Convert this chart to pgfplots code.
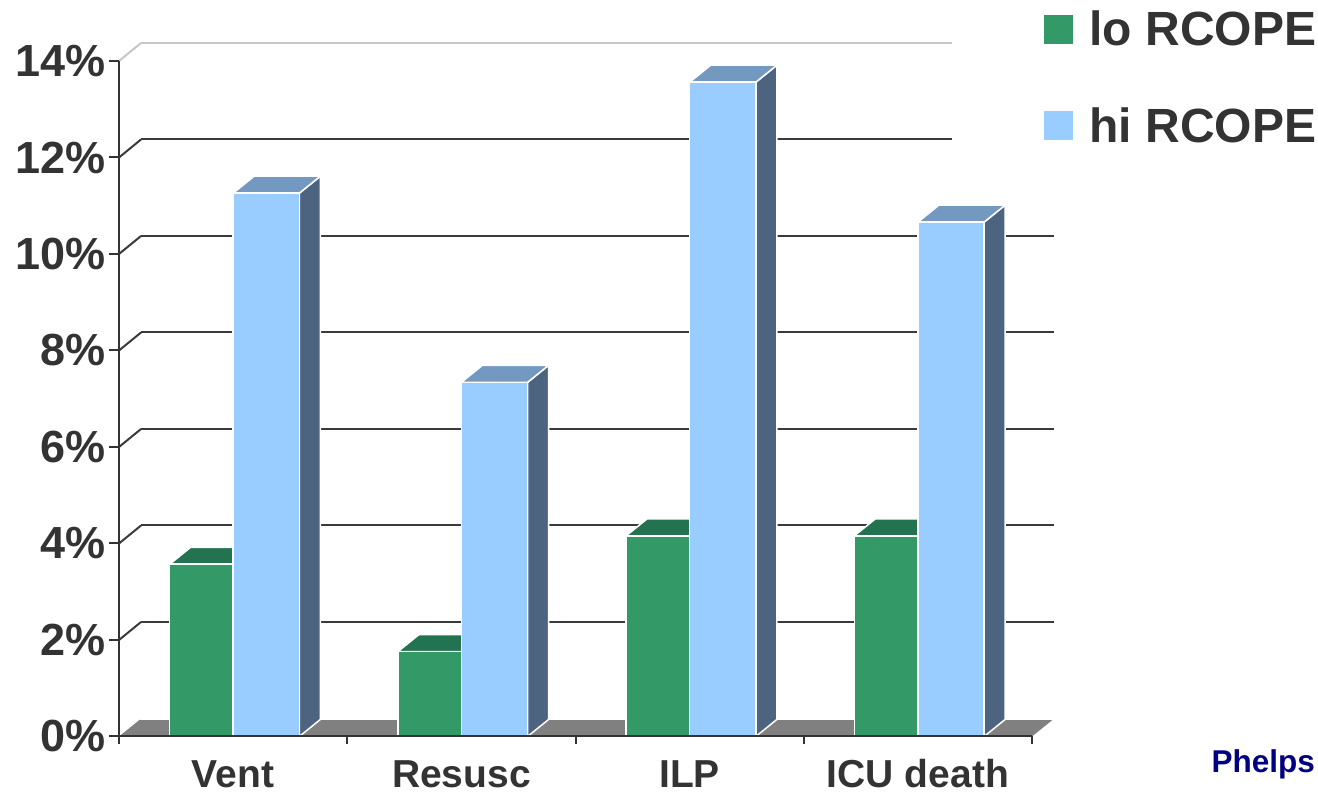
\documentclass[border=0pt]{standalone}
\usepackage{pgfplots}
\pgfplotsset{compat=1.18}
\usepackage{pgfplotstable}
\usepackage{fontspec}
\setmainfont{Liberation Sans}

\definecolor{txt}{HTML}{333333}
\definecolor{lofront}{HTML}{339966}
\definecolor{lotop}{HTML}{237350}
\definecolor{loside}{HTML}{1E5C40}
\definecolor{hifront}{HTML}{99CCFF}
\definecolor{hitop}{HTML}{7399C0}
\definecolor{hiside}{HTML}{4D6480}
\definecolor{floorc}{HTML}{808080}
\definecolor{gridc}{HTML}{3A3A3A}
\definecolor{navyc}{HTML}{000080}

\pgfplotstableread{
idx lo hi
0 3.57 11.26
1 1.76 7.34
2 4.16 13.56
3 4.16 10.66
}\data

% depth of bars and of the wall, in axis units
\def\bdx{0.092}
\def\bdy{0.352}
\def\wdx{0.0964}
\def\wdy{0.373}

\begin{document}
\begin{tikzpicture}
\begin{axis}[
  name=ax,
  scale only axis, width=913bp, height=675.5bp,
  xmin=-0.5, xmax=3.5, ymin=0, ymax=14,
  clip=false,
  axis on top=true,
  axis x line*=bottom, axis y line*=left,
  axis line style={draw=txt, line width=2bp},
  tick style={draw=txt, line width=2bp},
  tick align=outside,
  major tick length=10bp,
  minor tick length=8bp,
  ytick={0,2,...,14},
  yticklabels={0\%,2\%,4\%,6\%,8\%,10\%,12\%,14\%},
  yticklabel style={font=\fontsize{45bp}{45bp}\selectfont\bfseries, text=txt},
  xtick={0,1,2,3},
  xticklabels={Vent,Resusc,ILP,ICU death},
  major x tick style={draw=none},
  minor xtick={-0.5,0.5,1.5,2.5,3.5},
  minor x tick style={draw=txt, line width=2bp},
  xticklabel style={font=\fontsize{39bp}{39bp}\selectfont\bfseries, text=txt, anchor=base, inner sep=0pt, yshift=-41bp},
  legend style={at={(axis cs:3.5526,15.036)}, anchor=north west, draw=none, fill=none,
     inner sep=0pt, row sep=60bp,
     font=\fontsize{48bp}{48bp}\selectfont\bfseries, text=txt,
     nodes={inner sep=0pt},
     /tikz/every odd column/.append style={column sep=17bp}},
  legend cell align=left,
]
% floor
\addplot[forget plot, fill=floorc, draw=none] coordinates {(-0.5,0) (3.5,0) (3.592,0.352) (-0.408,0.352)} -- cycle;
\addplot[forget plot, draw=white, line width=1.5bp] coordinates {(-0.408,0.352) (3.592,0.352)};
% back wall grid lines and left wall diagonals
\pgfplotsinvokeforeach{2,4,6,8,10}{
  \pgfmathsetmacro\gy{#1+\wdy}
  \edef\cmd{%
    \noexpand\addplot[forget plot, draw=gridc, line width=2bp] coordinates {(-0.4036,\gy) (3.5964,\gy)};
    \noexpand\addplot[forget plot, draw=gridc, line width=2bp] coordinates {(-0.5,#1) (-0.4036,\gy)};
  }\cmd
}
\addplot[forget plot, draw=gridc, line width=2bp] coordinates {(-0.4036,12.373) (3.149,12.373)};
\addplot[forget plot, draw=gridc, line width=2bp] coordinates {(-0.5,12) (-0.4036,12.373)};
\addplot[forget plot, draw=black!22, line width=2bp] coordinates {(-0.4036,14.373) (3.149,14.373)};
\addplot[forget plot, draw=black!22, line width=2bp] coordinates {(-0.5,14) (-0.4036,14.373)};
% 3D bars
\pgfplotsinvokeforeach{0,1,2,3}{
  \pgfplotstablegetelem{#1}{lo}\of\data \let\vlo\pgfplotsretval
  \pgfplotstablegetelem{#1}{hi}\of\data \let\vhi\pgfplotsretval
  \pgfmathsetmacro\xa{#1-0.278}
  \pgfmathsetmacro\xb{#1}
  \pgfmathsetmacro\xc{#1+0.29}
  \pgfmathsetmacro\xad{\xa+\bdx}
  \pgfmathsetmacro\xbd{\xb+\bdx}
  \pgfmathsetmacro\xcd{\xc+\bdx}
  \pgfmathsetmacro\vlod{\vlo+\bdy}
  \pgfmathsetmacro\vhid{\vhi+\bdy}
  \edef\cmd{%
    \noexpand\addplot[forget plot, fill=loside, draw=white, line width=1.5bp] coordinates {(\xb,0) (\xbd,\bdy) (\xbd,\vlod) (\xb,\vlo)} -- cycle;
    \noexpand\addplot[forget plot, fill=lotop, draw=white, line width=1.5bp] coordinates {(\xa,\vlo) (\xb,\vlo) (\xbd,\vlod) (\xad,\vlod)} -- cycle;
    \noexpand\addplot[forget plot, fill=lofront, draw=white, line width=1.5bp] coordinates {(\xa,0) (\xb,0) (\xb,\vlo) (\xa,\vlo)} -- cycle;
    \noexpand\addplot[forget plot, fill=hiside, draw=white, line width=1.5bp] coordinates {(\xc,0) (\xcd,\bdy) (\xcd,\vhid) (\xc,\vhi)} -- cycle;
    \noexpand\addplot[forget plot, fill=hitop, draw=white, line width=1.5bp] coordinates {(\xb,\vhi) (\xc,\vhi) (\xcd,\vhid) (\xbd,\vhid)} -- cycle;
    \noexpand\addplot[forget plot, fill=hifront, draw=white, line width=1.5bp] coordinates {(\xb,0) (\xc,0) (\xc,\vhi) (\xb,\vhi)} -- cycle;
  }\cmd
}
\addlegendimage{legend image code/.code={\fill[lofront] (0bp,-14bp) rectangle (28bp,14bp);}}
\addlegendentry{lo RCOPE}
\addlegendimage{legend image code/.code={\fill[hifront] (0bp,-14bp) rectangle (28bp,14bp);}}
\addlegendentry{hi RCOPE}
\node[anchor=base east, inner sep=0pt, text=navyc, font=\fontsize{31.5bp}{31.5bp}\selectfont\bfseries] at (axis cs:4.740,-0.736) {Phelps};
\coordinate (bbsw) at (axis cs:-1.0214,-1.2124);
\coordinate (bbne) at (axis cs:4.753,15.264);
\end{axis}
\pgfresetboundingbox
\useasboundingbox (bbsw) rectangle (bbne);
\end{tikzpicture}
\end{document}
